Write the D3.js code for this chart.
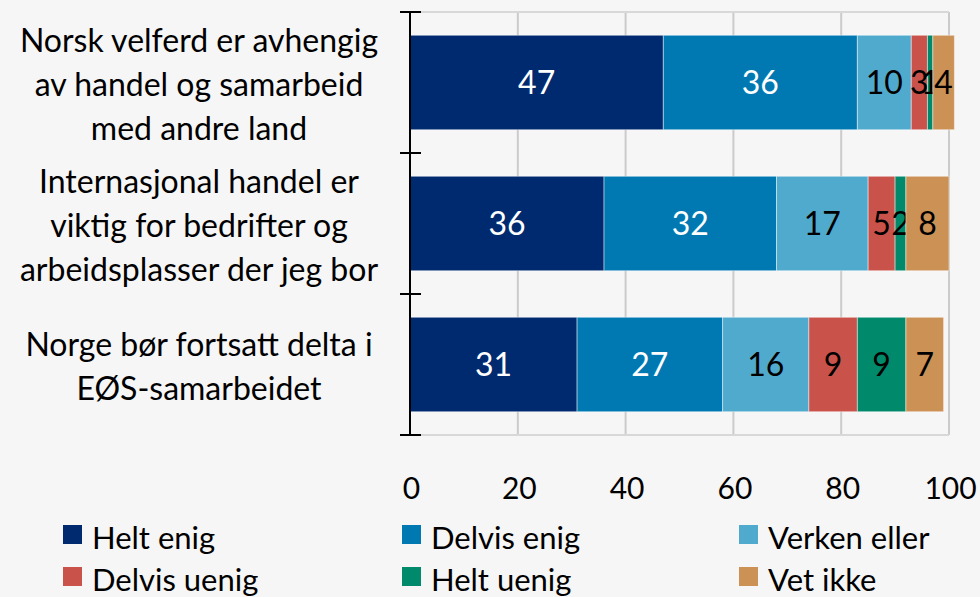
<!DOCTYPE html>
<html>
<head>
<meta charset="utf-8">
<script src="https://cdn.jsdelivr.net/npm/d3@7"></script>
<style>
  body { margin: 0; background: #f6f6f6; }
  svg { display: block; font-family: Lato, sans-serif; }
</style>
</head>
<body>
<svg id="chart"></svg>
<script>
var categories = ["velferd", "handel", "eos"];
var categoryLines = [
  ["Norsk velferd er avhengig", "av handel og samarbeid", "med andre land"],
  ["Internasjonal handel er", "viktig for bedrifter og", "arbeidsplasser der jeg bor"],
  ["Norge bør fortsatt delta i", "EØS-samarbeidet"]
];
var seriesNames = ["Helt enig", "Delvis enig", "Verken eller", "Delvis uenig", "Helt uenig", "Vet ikke"];
var heltEnig    = [47, 36, 31];
var delvisEnig  = [36, 32, 27];
var verken      = [10, 17, 16];
var delvisUenig = [3, 5, 9];
var heltUenig   = [1, 2, 9];
var vetIkke     = [4, 8, 7];
var xTicks = [0, 20, 40, 60, 80, 100];

var colors = ["#002a70", "#0079b3", "#50aacd", "#c9534a", "#00896a", "#cc9155"];
var labelColors = ["#ffffff", "#ffffff", "#000000", "#000000", "#000000", "#000000"];

var w = 980, h = 597;
var x0 = 410, x1 = 949, yTop = 12, yBot = 435;

var svg = d3.select("#chart").attr("width", w).attr("height", h);

var allSeries = [heltEnig, delvisEnig, verken, delvisUenig, heltUenig, vetIkke];
var rows = categories.map(function(c, i){
  var r = {cat: c};
  seriesNames.forEach(function(s, j){ r[s] = allSeries[j][i]; });
  return r;
});
var stacked = d3.stack().keys(seriesNames)(rows);

var xScale = d3.scaleLinear().domain([0, 100]).range([x0, x1]);
var yScale = d3.scaleBand()
  .domain(categories)
  .range([yTop, yBot])
  .paddingInner(0.33)
  .paddingOuter(0.165);

// gridlines
svg.append("g").selectAll("line")
  .data(xTicks.slice(1))
  .enter().append("line")
  .attr("x1", function(d){ return xScale(d); })
  .attr("x2", function(d){ return xScale(d); })
  .attr("y1", yTop).attr("y2", yBot)
  .attr("stroke", "#cbcbcb").attr("stroke-width", 2);

svg.append("g").selectAll("line")
  .data([yTop, yBot])
  .enter().append("line")
  .attr("x1", x0).attr("x2", xScale(100))
  .attr("y1", function(d){ return d; })
  .attr("y2", function(d){ return d; })
  .attr("stroke", "#d8d8d8").attr("stroke-width", 2);

// bars
var groups = svg.append("g").selectAll("g")
  .data(stacked)
  .enter().append("g")
  .attr("fill", function(d, i){ return colors[i]; });

groups.selectAll("rect")
  .data(function(d){ return d; })
  .enter().append("rect")
  .attr("x", function(d){ return xScale(d[0]); })
  .attr("width", function(d){ return xScale(d[1]) - xScale(d[0]); })
  .attr("y", function(d){ return yScale(d.data.cat); })
  .attr("height", yScale.bandwidth())
  .attr("stroke", "rgba(255,255,255,0.45)")
  .attr("stroke-width", 1);

groups.each(function(s, i){
  d3.select(this).selectAll("text")
    .data(s)
    .enter().append("text")
    .attr("x", function(d){ return (xScale(d[0]) + xScale(d[1])) / 2; })
    .attr("y", function(d){ return yScale(d.data.cat) + yScale.bandwidth() / 2; })
    .attr("dy", "0.36em")
    .attr("text-anchor", "middle")
    .attr("font-size", "32px")
    .attr("fill", labelColors[i])
    .text(function(d){ return d[1] - d[0]; });
});

// y axis
svg.append("line")
  .attr("x1", x0).attr("x2", x0)
  .attr("y1", yTop).attr("y2", yBot)
  .attr("stroke", "#000").attr("stroke-width", 2);

var step = yScale.step();
var tickYs = d3.range(categories.length + 1).map(function(i){ return yTop + i * step; });
svg.append("g").selectAll("line")
  .data(tickYs)
  .enter().append("line")
  .attr("x1", x0 - 10).attr("x2", x0 + 11)
  .attr("y1", function(d){ return d; })
  .attr("y2", function(d){ return d; })
  .attr("stroke", "#000").attr("stroke-width", 2);

// category labels
var lineH = 44;
categories.forEach(function(c, i){
  var lines = categoryLines[i];
  var cy = yScale(c) + yScale.bandwidth() / 2;
  var t = svg.append("text")
    .attr("text-anchor", "middle")
    .attr("font-size", "32px")
    .attr("fill", "#000");
  lines.forEach(function(l, j){
    t.append("tspan")
      .attr("x", 199)
      .attr("y", cy + (j - (lines.length - 1) / 2) * lineH + 13.5)
      .text(l);
  });
});

// x axis labels
svg.append("g").selectAll("text")
  .data(xTicks)
  .enter().append("text")
  .attr("x", function(d){ return xScale(d) + 1.5; })
  .attr("y", 499)
  .attr("text-anchor", "middle")
  .attr("font-size", "30px")
  .attr("fill", "#000")
  .text(function(d){ return d; });

// legend
var legX = [63, 402, 739];
var legY = [525, 567];
var legend = svg.append("g").selectAll("g")
  .data(seriesNames)
  .enter().append("g")
  .attr("transform", function(d, i){
    return "translate(" + legX[i % 3] + "," + legY[Math.floor(i / 3)] + ")";
  });
legend.append("rect")
  .attr("width", 19).attr("height", 19)
  .attr("fill", function(d, i){ return colors[i]; });
legend.append("text")
  .attr("x", 29).attr("y", 24)
  .attr("font-size", "31px")
  .attr("fill", "#000")
  .text(function(d){ return d; });
</script>
</body>
</html>
